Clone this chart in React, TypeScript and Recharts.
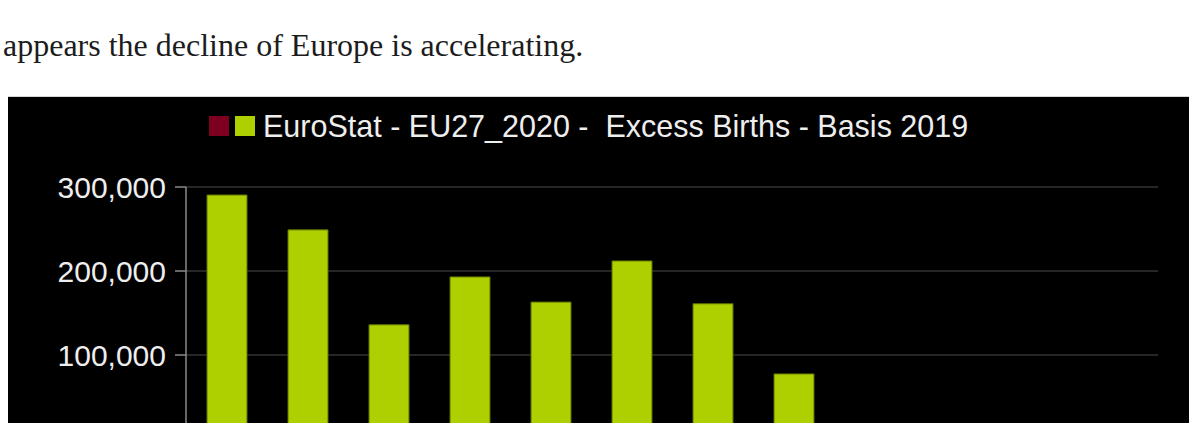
import React from 'react';
import { BarChart, Bar, XAxis, YAxis, CartesianGrid, Legend } from 'recharts';

// categories (labels sit below the visible crop)
const years = ['2012', '2013', '2014', '2015', '2016', '2017', '2018', '2019', '2020', '2021', '2022', '2023'];
// green series
const excessBirths = [290500, 249000, 136000, 193000, 163000, 212000, 161000, 77500, null, null, null, null];
// dark red series, nothing of it is visible in the crop
const deficit = [null, null, null, null, null, null, null, null, null, null, null, null];
const yTicks = [0, 100000, 200000, 300000];

const seriesName = 'EuroStat - EU27_2020 -  Excess Births - Basis 2019';
const red = '#7e0021';
const green = '#aecf00';

const chartData = years.map((year, i) => ({
  year,
  deficit: deficit[i],
  births: excessBirths[i],
}));

const textColor = '#eeeeee';
const axisColor = '#8a8a8a';

function LegendRow() {
  return (
    <div style={{ display: 'flex', alignItems: 'center', fontFamily: '"Liberation Sans", Arial, sans-serif' }}>
      <span style={{ display: 'inline-block', width: 20, height: 20, background: red, marginRight: 6 }} />
      <span style={{ display: 'inline-block', width: 20, height: 20, background: green, marginRight: 8 }} />
      <span style={{ color: textColor, fontSize: 30.5, lineHeight: '30px', whiteSpace: 'pre' }}>{seriesName}</span>
    </div>
  );
}

export default function App() {
  return (
    <div style={{ position: 'fixed', left: 0, top: 0, width: 1189, height: 423, overflow: 'hidden', background: '#fff' }}>
      <div
        style={{
          position: 'absolute',
          left: 3,
          top: 29,
          fontFamily: '"Liberation Serif", "Times New Roman", serif',
          fontSize: 32,
          lineHeight: 1,
          color: '#1c1c1c',
          whiteSpace: 'nowrap',
        }}
      >
        appears the decline of Europe is accelerating.
      </div>
      <div
        style={{
          position: 'absolute',
          left: 8,
          top: 96,
          width: 1181,
          height: 420,
          background: '#000',
          borderTop: '1px solid #d4d4d4',
        }}
      >
        <BarChart
          width={1181}
          height={400}
          data={chartData}
          margin={{ top: 60, right: 31, left: 0, bottom: 28 }}
          barSize={40}
        >
          <CartesianGrid vertical={false} stroke="#333" strokeWidth={1.5} />
          <XAxis
            dataKey="year"
            height={30}
            axisLine={{ stroke: axisColor }}
            tickLine={{ stroke: axisColor }}
            tick={{ fill: textColor, fontSize: 30, fontFamily: '"Liberation Sans", Arial, sans-serif' }}
          />
          <YAxis
            width={178}
            domain={[0, 300000]}
            ticks={yTicks}
            interval={0}
            tickSize={11}
            tickMargin={9}
            axisLine={{ stroke: axisColor, strokeWidth: 1.5 }}
            tickLine={{ stroke: axisColor, strokeWidth: 1.5 }}
            tickFormatter={(v: number) => v.toLocaleString('en-US')}
            tick={{ fill: textColor, fontSize: 30, fontFamily: '"Liberation Sans", Arial, sans-serif' }}
          />
          <Legend
            verticalAlign="top"
            content={<LegendRow />}
            wrapperStyle={{ position: 'absolute', top: 14, left: 201, width: 'auto' }}
          />
          <Bar dataKey="deficit" name="deficit" stackId="a" fill={red} isAnimationActive={false} />
          <Bar
            dataKey="births"
            name={seriesName}
            stackId="a"
            fill={green}
            stroke="#5c6e00"
            strokeWidth={1}
            isAnimationActive={false}
          />
        </BarChart>
      </div>
    </div>
  );
}
